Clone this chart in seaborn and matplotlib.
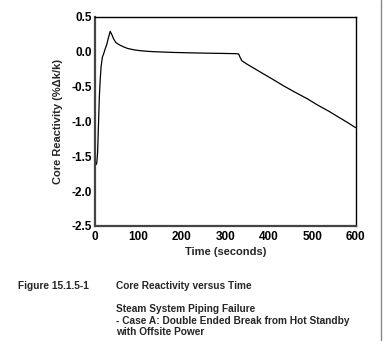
import matplotlib
matplotlib.use("Agg")
import matplotlib.pyplot as plt
import seaborn as sns
import pandas as pd
from matplotlib.lines import Line2D

time_s = [0, 2, 4, 6, 8, 10, 12, 14, 17, 20, 23, 27, 31, 35, 39, 43, 48, 55, 65, 75, 90, 105, 125, 150,
          180, 220, 260, 300, 325, 331, 334, 338, 350, 380, 410, 434, 460, 490, 511, 540, 561, 580, 600]
reactivity = [-1.55, -1.62, -1.60, -1.45, -1.05, -0.65, -0.40, -0.22, -0.08, -0.03, 0.03, 0.10, 0.20, 0.29,
              0.24, 0.18, 0.13, 0.10, 0.07, 0.045, 0.025, 0.012, 0.002, -0.005,
              -0.012, -0.018, -0.023, -0.027, -0.03, -0.035, -0.08, -0.13, -0.18, -0.29, -0.40, -0.49,
              -0.58, -0.68, -0.76, -0.86, -0.94, -1.01, -1.09]

x_ticks = [0, 100, 200, 300, 400, 500, 600]
y_ticks = [-2.5, -2.0, -1.5, -1.0, -0.5, 0.0, 0.5]

df = pd.DataFrame({"t": time_s, "r": reactivity})

sns.set_style("white")
plt.rcParams["font.family"] = ["Liberation Sans", "DejaVu Sans"]

fig = plt.figure(figsize=(3.84, 3.41), dpi=100)
ax = fig.add_axes([95/384, 1-226/341, (355.5-95)/384, (226-16.7)/341])
sns.lineplot(data=df, x="t", y="r", ax=ax, color="black", linewidth=0.9, sort=False)

ax.set_xlim(0, 600)
ax.set_ylim(-2.5, 0.5)
ax.set_xticks(x_ticks)
ax.set_xticklabels([str(v) for v in x_ticks])
ax.set_yticks(y_ticks)
ax.set_yticklabels([f"{v:.1f}" for v in y_ticks])
ax.tick_params(direction="in", length=3, width=0.8, labelsize=8.5, colors="black")
ax.tick_params(axis="x", pad=3.5)
ax.tick_params(axis="y", pad=2)
for lab in ax.get_xticklabels() + ax.get_yticklabels():
    lab.set_fontweight("bold")
for s in ax.spines.values():
    s.set_color("black")
    s.set_linewidth(1.0)
    s.set_visible(True)
ax.spines["bottom"].set_linewidth(1.6)
ax.spines["bottom"].set_color("#444444")
ax.spines["left"].set_linewidth(1.6)
ax.spines["left"].set_color("#444444")

ax.set_xlabel("Time (seconds)", fontsize=8, fontweight="bold", labelpad=3)
ax.set_ylabel("Core Reactivity (%\u0394k/k)", fontsize=8, fontweight="bold", labelpad=6)

cap = 7.3
fig.text(18/384, 1-286/341, "Figure 15.1.5-1", fontsize=cap, fontweight="bold", va="center")
fig.text(116/384, 1-286/341, "Core Reactivity versus Time", fontsize=cap, fontweight="bold", va="center")
fig.text(116/384, 1-309/341, "Steam System Piping Failure", fontsize=cap, fontweight="bold", va="center")
fig.text(116/384, 1-321/341, "- Case A: Double Ended Break from Hot Standby", fontsize=cap, fontweight="bold", va="center")
fig.text(116/384, 1-332/341, "with Offsite Power", fontsize=cap, fontweight="bold", va="center")

fig.add_artist(Line2D([381/384, 381/384], [0, 1], transform=fig.transFigure, color="#888888", linewidth=1.0))

fig.savefig("out.png", dpi=100)
